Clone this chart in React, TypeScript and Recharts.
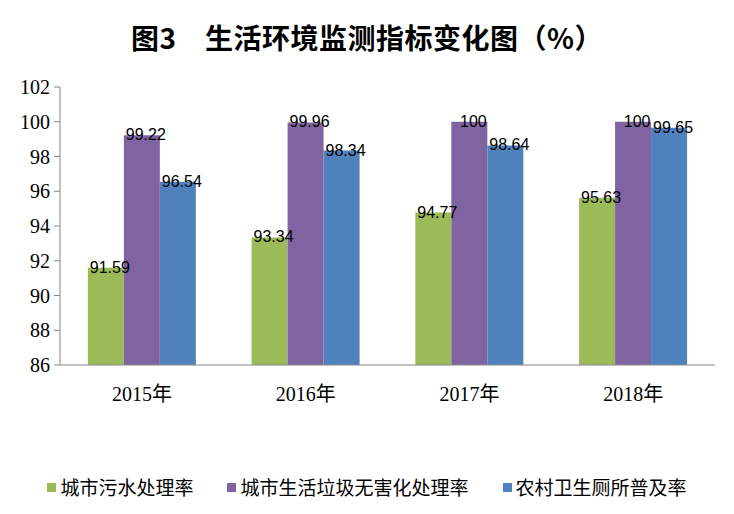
import React from 'react';
import { BarChart, Bar, XAxis, YAxis, LabelList } from 'recharts';

const years = ['2015年', '2016年', '2017年', '2018年'];
const sewage = [91.59, 93.34, 94.77, 95.63];
const garbage = [99.22, 99.96, 100, 100];
const toilet = [96.54, 98.34, 98.64, 99.65];
const yTicks = [86, 88, 90, 92, 94, 96, 98, 100, 102];

const series = [
  { key: 'sewage', name: '城市污水处理率', color: '#9BBB59' },
  { key: 'garbage', name: '城市生活垃圾无害化处理率', color: '#8064A2' },
  { key: 'toilet', name: '农村卫生厕所普及率', color: '#4F81BD' },
];

const data = years.map((year, i) => ({
  year,
  sewage: sewage[i],
  garbage: garbage[i],
  toilet: toilet[i],
}));

const renderLabel = (props: any) => {
  const { x, y, width, value } = props;
  return (
    <text
      x={Number(x) + Number(width) / 2 + 4}
      y={Number(y) + 5}
      textAnchor="middle"
      fontFamily="'Liberation Sans', Arial, sans-serif"
      fontSize={16}
      fill="#000"
    >
      {value}
    </text>
  );
};

const App: React.FC = () => {
  React.useEffect(() => {
    document.body.style.margin = '0';
  }, []);

  return (
    <div style={{ position: 'relative', width: 734, height: 514, background: '#fff' }}>
      <div
        style={{
          position: 'absolute',
          top: 17,
          left: 0,
          width: 734,
          textAlign: 'center',
          lineHeight: '40px',
          fontFamily: "'Noto Sans CJK SC', sans-serif",
          fontWeight: 700,
          fontSize: 28,
          letterSpacing: 0.5,
          whiteSpace: 'pre',
        }}
      >
        {'图3　生活环境监测指标变化图（%）'}
      </div>
      <BarChart
        width={734}
        height={514}
        data={data}
        margin={{ top: 87, right: 19, left: 0, bottom: 0 }}
        barGap={0}
        barCategoryGap="17%"
      >
        <XAxis
          dataKey="year"
          height={149}
          tickLine={false}
          tickMargin={16}
          axisLine={{ stroke: '#868686' }}
          tick={{ fontFamily: "'Liberation Serif', 'Noto Sans CJK SC', serif", fontSize: 20, fill: '#000' }}
        />
        <YAxis
          width={60}
          domain={[86, 102]}
          ticks={yTicks}
          interval={0}
          allowDataOverflow
          tickSize={6}
          tickMargin={4}
          axisLine={{ stroke: '#868686' }}
          tickLine={{ stroke: '#868686' }}
          tick={{ fontFamily: "'Liberation Serif', serif", fontSize: 20, fill: '#000' }}
        />
        {series.map((s) => (
          <Bar key={s.key} dataKey={s.key} name={s.name} fill={s.color} isAnimationActive={false}>
            <LabelList dataKey={s.key} content={renderLabel} />
          </Bar>
        ))}
      </BarChart>
      <div
        style={{
          position: 'absolute',
          top: 473,
          left: 0,
          width: 734,
          display: 'flex',
          justifyContent: 'center',
          gap: 34,
          lineHeight: '28px',
          fontFamily: "'Noto Sans CJK SC', sans-serif",
          fontSize: 19,
          color: '#000',
        }}
      >
        {series.map((s) => (
          <div key={s.key} style={{ display: 'flex', alignItems: 'center' }}>
            <span style={{ display: 'inline-block', width: 9, height: 9, background: s.color, marginRight: 4 }} />
            {s.name}
          </div>
        ))}
      </div>
    </div>
  );
};

export default App;
